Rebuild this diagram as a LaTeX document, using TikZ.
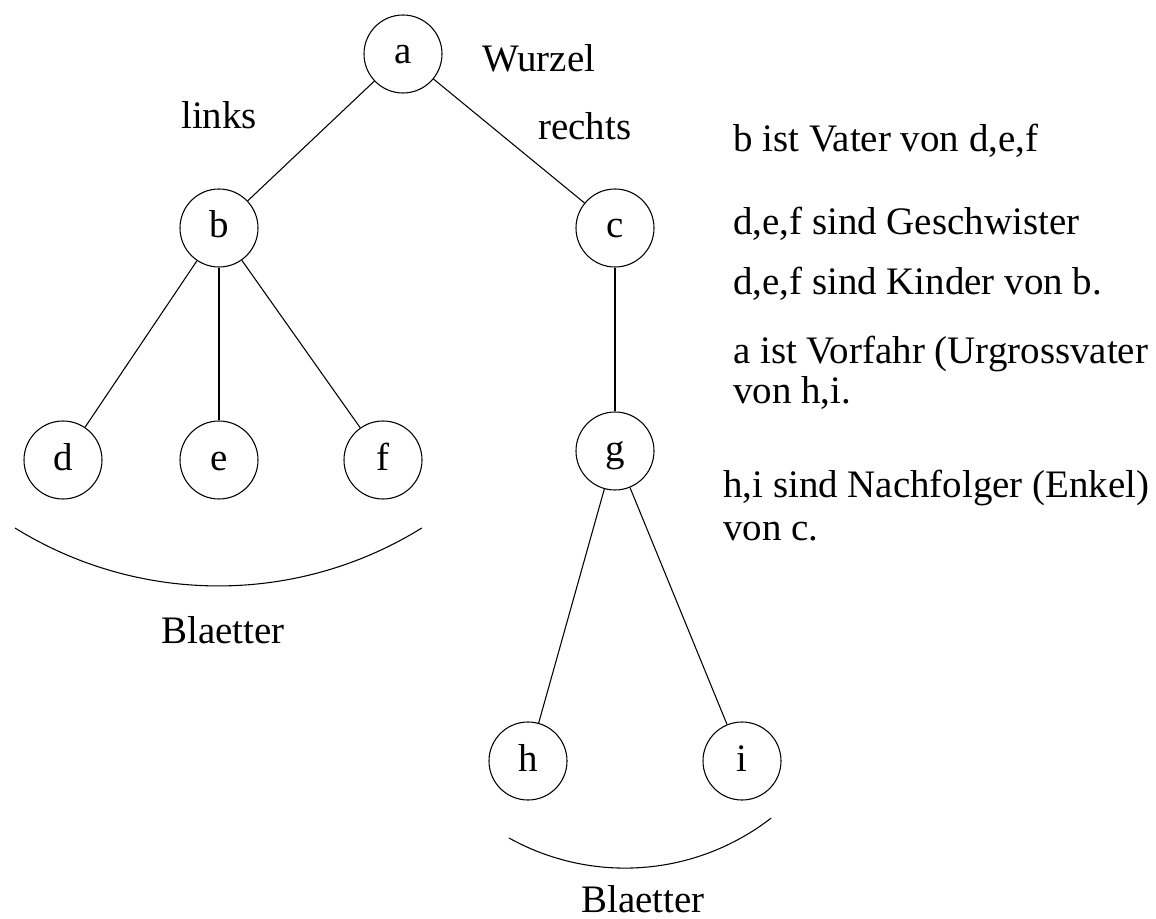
\documentclass[tikz,border=0pt]{standalone}
\usepackage{fontspec}
\setmainfont{Liberation Serif}
\begin{document}
\begin{tikzpicture}[x=0.75pt,y=-0.75pt,
  every node/.style={font=\fontsize{29.2}{40}\selectfont},
  vertex/.style={draw,circle,line width=0.8pt,minimum size=58.5pt,inner sep=0pt,
    text height=20pt,text depth=5pt},
  edge/.style={line width=0.8pt},
  lbl/.style={anchor=base west,inner sep=0pt}]
\useasboundingbox (0,0) rectangle (1156,919);
% vertices
\node[vertex] (a) at (403,54) {a};
\node[vertex] (b) at (219,228) {b};
\node[vertex] (c) at (615,228) {c};
\node[vertex] (d) at (63,460) {d};
\node[vertex] (e) at (219,460) {e};
\node[vertex] (f) at (383,460) {f};
\node[vertex] (g) at (615,451) {g};
\node[vertex] (h) at (528,761) {h};
\node[vertex] (i) at (742,761) {i};
% edges
\draw[edge] (a) -- (b);
\draw[edge] (a) -- (c);
\draw[edge] (b) -- (d);
\draw[edge] (b) -- (e);
\draw[edge] (b) -- (f);
\draw[edge] (c) -- (g);
\draw[edge] (g) -- (h);
\draw[edge] (g) -- (i);
% leaf arcs
\coordinate (arcL) at (15,528);
\coordinate (arcR) at (509,838);
\draw[edge] (arcL) arc[start angle=121.8,end angle=58.2,radius=386];
\draw[edge] (arcR) arc[start angle=119.1,end angle=52.2,radius=238.5];
% labels
\node[lbl] (wurzel) at (482,72) {Wurzel};
\node[lbl] (links) at (181,129) {links};
\node[lbl] (rechts) at (538,140) {rechts};
\node[lbl] (blL) at (161,643) {Blaetter};
\node[lbl] (blR) at (581,912) {Blaetter};
\node[lbl] (t1) at (733,152) {b ist Vater von d,e,f};
\node[lbl] (t2) at (733,235) {d,e,f sind Geschwister};
\node[lbl] (t3) at (733,295) {d,e,f sind Kinder von b.};
\node[lbl] (t4) at (733,364) {a ist Vorfahr (Urgrossvater};
\node[lbl] (t5) at (733,404) {von h,i.};
\node[lbl] (t6) at (723,498) {h,i sind Nachfolger (Enkel)};
\node[lbl] (t7) at (723,540) {von c.};
\end{tikzpicture}
\end{document}
